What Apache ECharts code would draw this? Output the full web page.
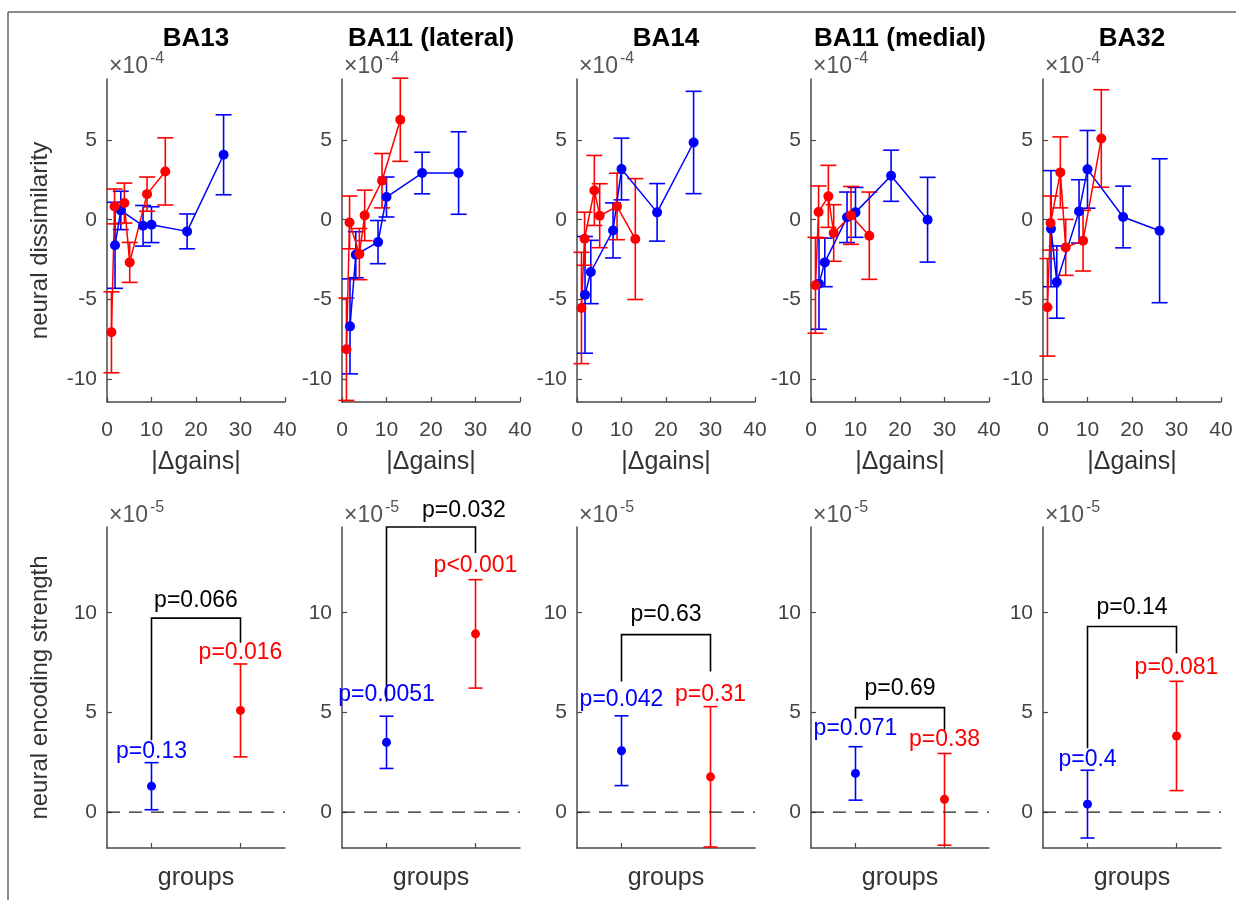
<!DOCTYPE html>
<html><head><meta charset="utf-8">
<script src="https://cdn.jsdelivr.net/npm/echarts@6/dist/echarts.min.js"></script>
<style>html,body{margin:0;padding:0;background:#fff}#c{width:1236px;height:900px}</style>
</head><body><div id="c"></div>
<script>
// ---------------- data ----------------
const regions = ['BA13', 'BA11 (lateral)', 'BA14', 'BA11 (medial)', 'BA32'];
const gainTicks = [0, 10, 20, 30, 40];
const dissimTicks = [-10, -5, 0, 5];
const encTicks = [0, 5, 10];
const groupPos = [1, 2];

const gainsBlue = [1.8, 3.1, 8.1, 10, 18, 26.2];
const gainsRed = [1.0, 1.7, 3.9, 5.1, 9.0, 13.1];

const dissimBlueMean = [
  [-1.6, 0.58, -0.38, -0.31, -0.73, 4.06],
  [-6.67, -2.19, -1.4, 1.42, 2.92, 2.92],
  [-4.7, -3.27, -0.67, 3.17, 0.46, 4.83],
  [-4.0, -2.67, 0.15, 0.46, 2.75, 0.0],
  [-0.56, -3.9, 0.52, 3.15, 0.17, -0.69]
];
const dissimBlueSE = [
  [2.69, 1.2, 1.27, 1.12, 1.09, 2.5],
  [2.97, 1.44, 1.35, 1.25, 1.3, 2.58],
  [3.65, 1.98, 1.72, 1.93, 1.8, 3.2],
  [2.85, 1.52, 1.58, 1.56, 1.6, 2.65],
  [3.63, 2.26, 1.98, 2.43, 1.93, 4.5]
];
const dissimRedMean = [
  [-7.04, 0.83, 1.04, -2.67, 1.6, 3.02],
  [-8.1, -0.17, -2.15, 0.27, 2.44, 6.25],
  [-5.52, -1.19, 1.83, 0.25, 0.83, -1.21],
  [-4.1, 0.48, 1.46, -0.83, 0.27, -1.0],
  [-5.48, -0.21, 2.96, -1.73, -1.31, 5.08]
];
const dissimRedSE = [
  [2.53, 1.09, 1.25, 1.25, 1.07, 2.1],
  [3.2, 1.65, 1.6, 1.58, 1.7, 2.6],
  [3.48, 1.66, 2.19, 2.0, 2.08, 3.78],
  [3.0, 1.63, 1.94, 1.77, 1.81, 2.73],
  [3.05, 1.69, 2.22, 1.75, 1.9, 3.05]
];

const encBlueMean = [1.3, 3.5, 3.08, 1.94, 0.4];
const encBlueSE = [1.18, 1.31, 1.75, 1.34, 1.7];
const encRedMean = [5.1, 8.94, 1.77, 0.64, 3.82];
const encRedSE = [2.33, 2.72, 3.52, 2.3, 2.74];

const pBlue = ['p=0.13', 'p=0.0051', 'p=0.042', 'p=0.071', 'p=0.4'];
const pRed = ['p=0.016', 'p<0.001', 'p=0.31', 'p=0.38', 'p=0.081'];
const pDiff = ['p=0.066', 'p=0.032', 'p=0.63', 'p=0.69', 'p=0.14'];
const pBlueLevel = [3.03, 5.88, 5.63, 4.2, 2.65];
const pRedLevel = [8.0, 12.36, 5.88, 3.62, 7.27];
const pDiffLevel = [10.62, 15.14, 9.9, 6.17, 10.24];
const pDiffPos = [1.5, 1.87, 1.5, 1.5, 1.5];
const bracketLevel = [9.73, 14.3, 8.9, 5.24, 9.31];
const bracketLeftEnd = [3.6, 5.55, 6.55, 4.7, 3.2];
const bracketRightEnd = [8.5, 13.0, 7.05, 4.12, 7.97];

// ---------------- layout / style ----------------
const FONT = "'Liberation Sans', Arial, Helvetica, sans-serif";
const BLUE = '#0000ff', RED = '#ff0000';
const AX = '#4a4a4a';
const lefts = [107, 342, 577, 811, 1043];
const W = 178;
const topRow = {top: 79, height: 323};
const botRow = {top: 527, height: 321};

function errRender(color, capHalf, radius) {
  return function (params, api) {
    const x = api.value(0), m = api.value(1), se = api.value(2);
    const t = api.coord([x, m + se]), b = api.coord([x, m - se]), c = api.coord([x, m]);
    const st = {stroke: color, lineWidth: 1.6, fill: null};
    const ch = [
      {type: 'line', shape: {x1: t[0], y1: t[1], x2: b[0], y2: b[1]}, style: st},
      {type: 'line', shape: {x1: t[0] - capHalf, y1: t[1], x2: t[0] + capHalf, y2: t[1]}, style: st},
      {type: 'line', shape: {x1: b[0] - capHalf, y1: b[1], x2: b[0] + capHalf, y2: b[1]}, style: st}
    ];
    if (radius) ch.push({type: 'circle', shape: {cx: c[0], cy: c[1], r: radius}, style: {fill: color}});
    return {type: 'group', children: ch};
  };
}

const grid = [], xAxis = [], yAxis = [], series = [], graphic = [];
const axisCommon = {
  axisLine: {show: true, onZero: false, lineStyle: {color: AX, width: 1.5}},
  axisTick: {show: true, inside: true, length: 5, lineStyle: {color: AX, width: 1.2}},
  splitLine: {show: false},
  axisLabel: {color: '#444', fontSize: 21, fontFamily: FONT},
  nameTextStyle: {color: '#333', fontSize: 25, fontFamily: FONT}
};

regions.forEach((reg, i) => {
  // ---------- top row ----------
  const gT = grid.length;
  grid.push({left: lefts[i], width: W, top: topRow.top, height: topRow.height});
  xAxis.push(Object.assign({}, axisCommon, {
    gridIndex: gT, type: 'value', min: gainTicks[0], max: gainTicks[gainTicks.length - 1], interval: 10,
    axisLabel: Object.assign({}, axisCommon.axisLabel, {margin: 18}),
    name: '|\u0394gains|', nameLocation: 'middle', nameGap: 48
  }));
  yAxis.push(Object.assign({}, axisCommon, {
    gridIndex: gT, type: 'value', min: -11.4, max: 8.8,
    axisTick: Object.assign({}, axisCommon.axisTick, {customValues: dissimTicks}),
    axisLabel: Object.assign({}, axisCommon.axisLabel, {customValues: dissimTicks, margin: 10}),
    name: i === 0 ? 'neural dissimilarity' : '', nameLocation: 'middle', nameGap: 55,
    nameTextStyle: Object.assign({}, axisCommon.nameTextStyle, {fontSize: 24})
  }));
  const bData = gainsBlue.map((g, k) => [g, dissimBlueMean[i][k], dissimBlueSE[i][k]]);
  const rData = gainsRed.map((g, k) => [g, dissimRedMean[i][k], dissimRedSE[i][k]]);
  series.push({type: 'custom', xAxisIndex: gT, yAxisIndex: gT, data: bData, encode: {x: 0, y: 1},
    renderItem: errRender(BLUE, 8, 0), silent: true});
  series.push({type: 'line', xAxisIndex: gT, yAxisIndex: gT, data: bData.map(d => [d[0], d[1]]),
    symbol: 'circle', symbolSize: 10, itemStyle: {color: BLUE}, lineStyle: {color: BLUE, width: 1.5}, silent: true});
  series.push({type: 'custom', xAxisIndex: gT, yAxisIndex: gT, data: rData, encode: {x: 0, y: 1},
    renderItem: errRender(RED, 8, 0), silent: true});
  series.push({type: 'line', xAxisIndex: gT, yAxisIndex: gT, data: rData.map(d => [d[0], d[1]]),
    symbol: 'circle', symbolSize: 10, itemStyle: {color: RED}, lineStyle: {color: RED, width: 1.5}, silent: true});

  // ---------- bottom row ----------
  const gB = grid.length;
  grid.push({left: lefts[i], width: W, top: botRow.top, height: botRow.height});
  xAxis.push(Object.assign({}, axisCommon, {
    gridIndex: gB, type: 'value', min: 0.5, max: 2.5,
    axisTick: Object.assign({}, axisCommon.axisTick, {customValues: groupPos}),
    axisLabel: {show: false},
    name: 'groups', nameLocation: 'middle', nameGap: 18
  }));
  yAxis.push(Object.assign({}, axisCommon, {
    gridIndex: gB, type: 'value', min: -1.8, max: 14.3,
    axisTick: Object.assign({}, axisCommon.axisTick, {customValues: encTicks}),
    axisLabel: Object.assign({}, axisCommon.axisLabel, {customValues: encTicks, margin: 10}),
    name: i === 0 ? 'neural encoding strength' : '', nameLocation: 'middle', nameGap: 55,
    nameTextStyle: Object.assign({}, axisCommon.nameTextStyle, {fontSize: 24})
  }));
  // zero reference line
  series.push({type: 'line', xAxisIndex: gB, yAxisIndex: gB, data: [[0.5, 0], [2.5, 0]], symbol: 'none',
    lineStyle: {color: '#222', width: 1.2, type: [13, 9]}, silent: true});
  series.push({type: 'custom', xAxisIndex: gB, yAxisIndex: gB,
    data: [[groupPos[0], encBlueMean[i], encBlueSE[i]]], encode: {x: 0, y: 1},
    renderItem: errRender(BLUE, 7, 4.5), silent: true});
  series.push({type: 'custom', xAxisIndex: gB, yAxisIndex: gB,
    data: [[groupPos[1], encRedMean[i], encRedSE[i]]], encode: {x: 0, y: 1},
    renderItem: errRender(RED, 7, 4.5), silent: true});
  // bracket
  series.push({type: 'custom', xAxisIndex: gB, yAxisIndex: gB, clip: false,
    data: [[groupPos[0], groupPos[1], bracketLevel[i], bracketLeftEnd[i], bracketRightEnd[i]]],
    encode: {x: [0, 1], y: [2, 3, 4]}, silent: true,
    renderItem: function (params, api) {
      const x1 = api.value(0), x2 = api.value(1), lv = api.value(2), le = api.value(3), re = api.value(4);
      const pts = [api.coord([x1, le]), api.coord([x1, lv]), api.coord([x2, lv]), api.coord([x2, re])];
      return {type: 'polyline', shape: {points: pts}, style: {stroke: '#000', lineWidth: 1.6, fill: null}};
    }});
  // p-value labels
  const lblTexts = [pBlue[i], pRed[i], pDiff[i]];
  const lblColors = [BLUE, RED, '#000'];
  series.push({type: 'custom', xAxisIndex: gB, yAxisIndex: gB, clip: false, z: 5,
    data: [[groupPos[0], pBlueLevel[i]], [groupPos[1], pRedLevel[i]], [pDiffPos[i], pDiffLevel[i]]],
    encode: {x: 0, y: 1}, silent: true,
    renderItem: function (params, api) {
      const p = api.coord([api.value(0), api.value(1)]);
      return {type: 'text', x: p[0], y: p[1], style: {text: lblTexts[params.dataIndex],
        fill: lblColors[params.dataIndex], fontSize: 23, fontFamily: FONT, align: 'center', verticalAlign: 'middle'}};
    }});

  // titles and exponent labels
  graphic.push({type: 'text', x: lefts[i] + W / 2, y: 39, style: {text: reg, fill: '#000', fontSize: 26,
    fontWeight: 'bold', fontFamily: FONT, align: 'center', verticalAlign: 'middle'}});
  [[67, '-4'], [516, '-5']].forEach(([yy, ex]) => {
    graphic.push({type: 'text', x: lefts[i] + 2, y: yy, style: {text: '\u00d710', fill: '#555', fontSize: 23,
      fontFamily: FONT, align: 'left', verticalAlign: 'middle'}});
    graphic.push({type: 'text', x: lefts[i] + 43, y: yy - 8, style: {text: ex, fill: '#555', fontSize: 16,
      fontFamily: FONT, align: 'left', verticalAlign: 'middle'}});
  });
});

// figure frame
graphic.push({type: 'line', shape: {x1: 8, y1: 12, x2: 1236, y2: 12}, style: {stroke: '#666', lineWidth: 1.5}});
graphic.push({type: 'line', shape: {x1: 8, y1: 12, x2: 8, y2: 900}, style: {stroke: '#666', lineWidth: 1.5}});

const chart = echarts.init(document.getElementById('c'), null, {renderer: 'canvas'});
chart.setOption({
  animation: false,
  backgroundColor: '#fff',
  textStyle: {fontFamily: FONT},
  grid, xAxis, yAxis, series, graphic
});
</script>
</body></html>
